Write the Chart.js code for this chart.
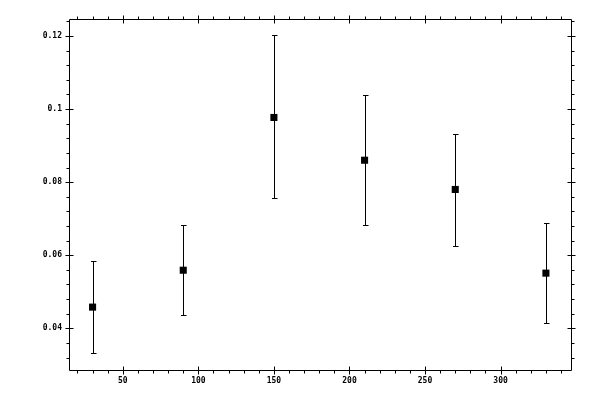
<!DOCTYPE html>
<html>
<head>
<meta charset="utf-8">
<script src="https://cdn.jsdelivr.net/npm/chart.js@4"></script>
<style>
  html, body { margin: 0; padding: 0; background: #ffffff; }
  #wrap { width: 600px; height: 400px; }
</style>
</head>
<body>
<div id="wrap"><canvas id="c" width="600" height="400"></canvas></div>
<script>
// ---- data ----
const xValues = [30, 90, 150, 210, 270, 330];
const yValues = [0.0458, 0.0559, 0.0977, 0.0860, 0.0780, 0.0551];
const yLower  = [0.0332, 0.0436, 0.0756, 0.0682, 0.0624, 0.0415];
const yUpper  = [0.0583, 0.0682, 0.1202, 0.1038, 0.0933, 0.0689];

// ---- axes ----
const xTickValues = [50, 100, 150, 200, 250, 300];
const xTickLabels = ['50', '100', '150', '200', '250', '300'];
const yTickValues = [0.04, 0.06, 0.08, 0.1, 0.12];
const yTickLabels = ['0.04', '0.06', '0.08', '0.1', '0.12'];
const xMinorStep = 10;
const yMinorStep = 0.004;
const xRange = [14.4, 346.6];
const yRange = [0.02859, 0.12465];

const points = xValues.map((x, i) => ({ x: x, y: yValues[i] }));

const errorBarPlugin = {
  id: 'errorBars',
  beforeDatasetsDraw(chart) {
    const ctx = chart.ctx;
    const xs = chart.scales.x, ys = chart.scales.y;
    ctx.save();
    ctx.strokeStyle = '#000';
    ctx.lineWidth = 1;
    ctx.beginPath();
    for (let i = 0; i < xValues.length; i++) {
      const px = Math.round(xs.getPixelForValue(xValues[i])) + 0.5;
      const lo = Math.round(ys.getPixelForValue(yLower[i])) + 0.5;
      const hi = Math.round(ys.getPixelForValue(yUpper[i])) + 0.5;
      ctx.moveTo(px, lo); ctx.lineTo(px, hi);
      ctx.moveTo(px - 2.5, lo); ctx.lineTo(px + 3, lo);
      ctx.moveTo(px - 2.5, hi); ctx.lineTo(px + 3, hi);
    }
    ctx.stroke();
    ctx.restore();
  }
};

const framePlugin = {
  id: 'frame',
  afterDraw(chart) {
    const ctx = chart.ctx;
    const a = chart.chartArea;
    const xs = chart.scales.x, ys = chart.scales.y;
    const L = Math.round(a.left) + 0.5, R = Math.round(a.right) + 0.5;
    const T = Math.round(a.top) + 0.5, B = Math.round(a.bottom) + 0.5;
    ctx.save();
    ctx.strokeStyle = '#000';
    ctx.lineWidth = 1;
    ctx.beginPath();
    ctx.rect(L, T, R - L, B - T);
    const majorX = xTickValues.map(v => Math.round(xs.getPixelForValue(v)));
    const majorY = yTickValues.map(v => Math.round(ys.getPixelForValue(v)));
    // x ticks
    const xStart = Math.ceil(xRange[0] / xMinorStep) * xMinorStep;
    for (let v = xStart; v <= xRange[1] + 1e-9; v += xMinorStep) {
      const p = Math.round(xs.getPixelForValue(v)) + 0.5;
      const major = majorX.includes(Math.round(xs.getPixelForValue(v)));
      if (major) {
        ctx.moveTo(p, T - 4); ctx.lineTo(p, T + 4);
        ctx.moveTo(p, B - 4); ctx.lineTo(p, B + 4);
      } else {
        ctx.moveTo(p, T - 3); ctx.lineTo(p, T);
        ctx.moveTo(p, B); ctx.lineTo(p, B + 3);
      }
    }
    // y ticks
    const yStart = Math.ceil(yRange[0] / yMinorStep - 1e-6) * yMinorStep;
    for (let v = yStart; v <= yRange[1] + 1e-9; v += yMinorStep) {
      const raw = Math.round(ys.getPixelForValue(v));
      const p = raw + 0.5;
      const major = majorY.includes(raw);
      if (major) {
        ctx.moveTo(L - 4, p); ctx.lineTo(L + 4, p);
        ctx.moveTo(R - 4, p); ctx.lineTo(R + 4, p);
      } else {
        ctx.moveTo(L - 3, p); ctx.lineTo(L, p);
        ctx.moveTo(R, p); ctx.lineTo(R + 3, p);
      }
    }
    ctx.stroke();
    ctx.restore();
  }
};

const tickFont = { family: 'DejaVu Sans Mono', size: 8, weight: 'bold' };

new Chart(document.getElementById('c'), {
  type: 'scatter',
  data: {
    datasets: [{
      data: points,
      pointStyle: 'rect',
      pointRadius: 5,
      pointHoverRadius: 5,
      pointBorderWidth: 0,
      backgroundColor: '#000',
      borderColor: '#000',
      showLine: false
    }]
  },
  options: {
    responsive: false,
    devicePixelRatio: 1,
    animation: false,
    layout: { padding: { top: 19, right: 29, left: 0, bottom: 0 } },
    plugins: { legend: { display: false }, tooltip: { enabled: false } },
    scales: {
      x: {
        type: 'linear',
        min: xRange[0], max: xRange[1],
        grid: { display: false, drawTicks: false },
        border: { display: false },
        afterBuildTicks: (s) => { s.ticks = xTickValues.map(v => ({ value: v })); },
        afterFit: (s) => { s.height = 30; },
        ticks: {
          autoSkip: false, maxRotation: 0, padding: 6,
          color: '#000', font: tickFont,
          callback: (v) => xTickLabels[xTickValues.indexOf(v)]
        }
      },
      y: {
        type: 'linear',
        min: yRange[0], max: yRange[1],
        grid: { display: false, drawTicks: false },
        border: { display: false },
        afterBuildTicks: (s) => { s.ticks = yTickValues.map(v => ({ value: v })); },
        afterFit: (s) => { s.width = 69; },
        ticks: {
          autoSkip: false, padding: 7,
          color: '#000', font: tickFont,
          callback: (v) => yTickLabels[yTickValues.indexOf(v)]
        }
      }
    }
  },
  plugins: [errorBarPlugin, framePlugin]
});
</script>
</body>
</html>
